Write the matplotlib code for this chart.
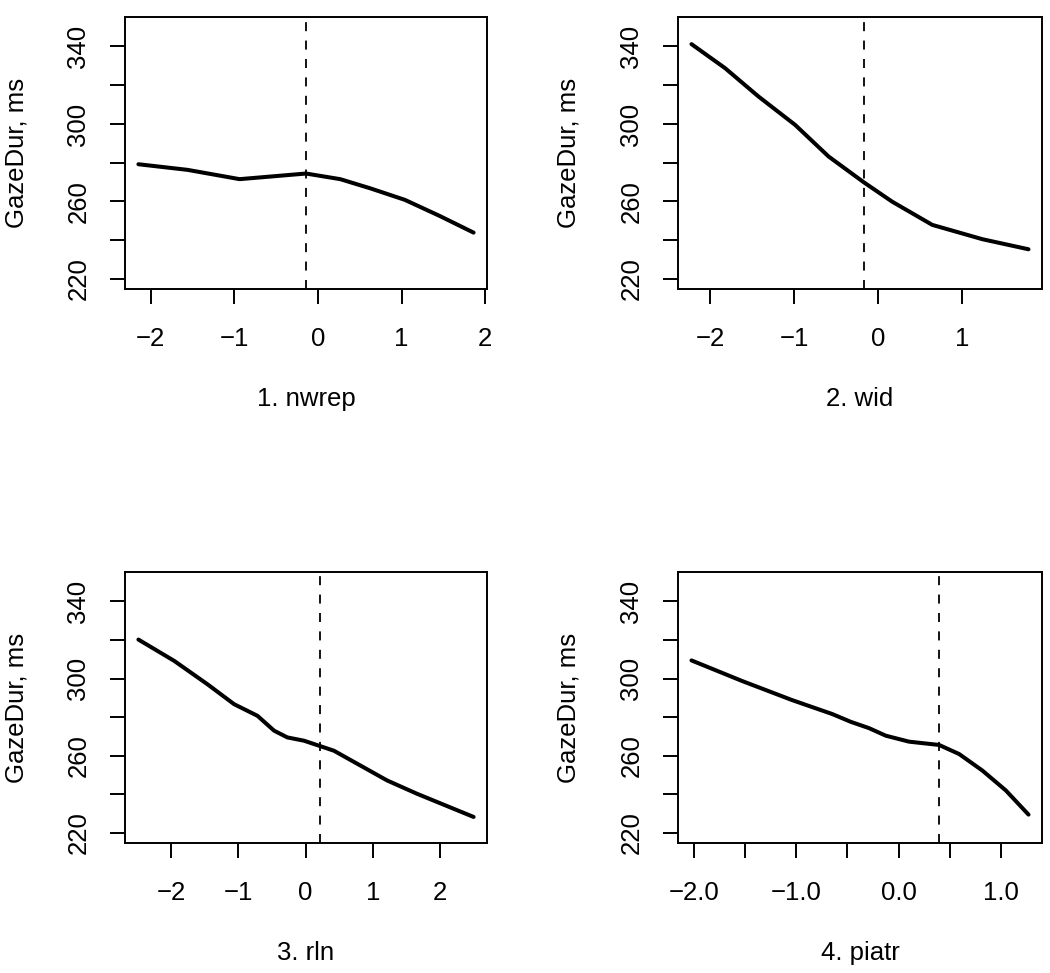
import matplotlib
matplotlib.use("Agg")
import matplotlib.pyplot as plt
import numpy as np

plt.rcParams['font.family'] = ['Liberation Sans', 'DejaVu Sans']

# partial effect curves
nwrep_x = [-2.147, -1.56, -0.937, -0.143, 0.266, 0.623, 1.04, 1.456, 1.861]
nwrep_y = [279.2, 276.3, 271.5, 274.4, 271.5, 266.8, 260.8, 252.5, 243.9]

wid_x = [-2.219, -1.82, -1.424, -0.987, -0.59, -0.172, 0.165, 0.642, 1.238, 1.786]
wid_y = [341.2, 328.8, 314.2, 299.5, 283.2, 269.9, 259.9, 247.9, 240.5, 235.3]

rln_x = [-2.484, -1.95, -1.457, -1.062, -0.716, -0.469, -0.272, -0.025, 0.198, 0.42,
         0.815, 1.21, 1.654, 2.494]
rln_y = [320.2, 309.1, 297.0, 286.7, 280.7, 273.0, 269.5, 267.8, 265.2, 262.6,
         254.9, 247.2, 240.3, 228.3]

piatr_x = [-2.023, -1.527, -1.038, -0.647, -0.468, -0.288, -0.125, 0.103, 0.396,
           0.592, 0.82, 1.049, 1.27]
piatr_y = [309.4, 298.7, 288.8, 281.6, 277.6, 274.3, 270.4, 267.3, 265.6,
           260.9, 252.3, 242.0, 229.5]

# dashed reference lines (median of predictor)
medians = [-0.143, -0.172, 0.207, 0.396]
labels = ['1. nwrep', '2. wid', '3. rln', '4. piatr']
curves = [(nwrep_x, nwrep_y), (wid_x, wid_y), (rln_x, rln_y), (piatr_x, piatr_y)]
xticks = [[-2, -1, 0, 1, 2], [-2, -1, 0, 1], [-2, -1, 0, 1, 2],
          [-2.0, -1.5, -1.0, -0.5, 0.0, 0.5, 1.0]]
yticks = [220, 240, 260, 280, 300, 320, 340]
ylim = (220, 350)


def fmt(v, dec):
    s = ('%.1f' % abs(v)) if dec else ('%d' % abs(v))
    return ('\u2212' + s) if v < 0 else s


fig = plt.figure(figsize=(10.5, 9.73), dpi=100)
W, H = 1050.0, 973.0
boxes = [(125, 17, 487, 289), (678, 17, 1042, 289),
         (125, 572, 487, 843), (678, 572, 1042, 843)]
fs = 18.5

for i in range(4):
    l, t, r, b = boxes[i]
    ax = fig.add_axes([l / W, 1 - b / H, (r - l) / W, (b - t) / H])
    x, y = curves[i]
    ax.plot(x, y, color='black', lw=2.9, solid_capstyle='round', solid_joinstyle='round')
    ax.axvline(medians[i], color='black', lw=1.3, linestyle=(0, (5, 5.2)))
    # R style 4% padding
    xr = max(x) - min(x)
    ax.set_xlim(min(x) - 0.04 * xr, max(x) + 0.04 * xr)
    yr = ylim[1] - ylim[0]
    ax.set_ylim(ylim[0] - 0.04 * yr, ylim[1] + 0.04 * yr)
    ax.set_xticks(xticks[i])
    if i == 3:
        ax.set_xticklabels([fmt(v, True) if v == int(v) else '' for v in xticks[i]])
    else:
        ax.set_xticklabels([fmt(v, False) for v in xticks[i]])
    ax.set_yticks(yticks)
    ax.set_yticklabels([str(v) if v % 40 == 20 else '' for v in yticks])
    ax.tick_params(axis='both', direction='out', length=11, width=1.4, labelsize=fs)
    ax.tick_params(axis='x', pad=16)
    ax.tick_params(axis='y', pad=14)
    for lab in ax.get_yticklabels():
        lab.set_rotation(90)
        lab.set_va('center')
    for s in ax.spines.values():
        s.set_linewidth(1.4)
    ax.set_xlabel(labels[i], fontsize=fs)
    ax.xaxis.set_label_coords(0.5, -0.36)
    ax.set_ylabel('GazeDur, ms', fontsize=fs)
    ax.yaxis.set_label_coords(-0.267, 0.5)

fig.savefig('out.png', dpi=100)
